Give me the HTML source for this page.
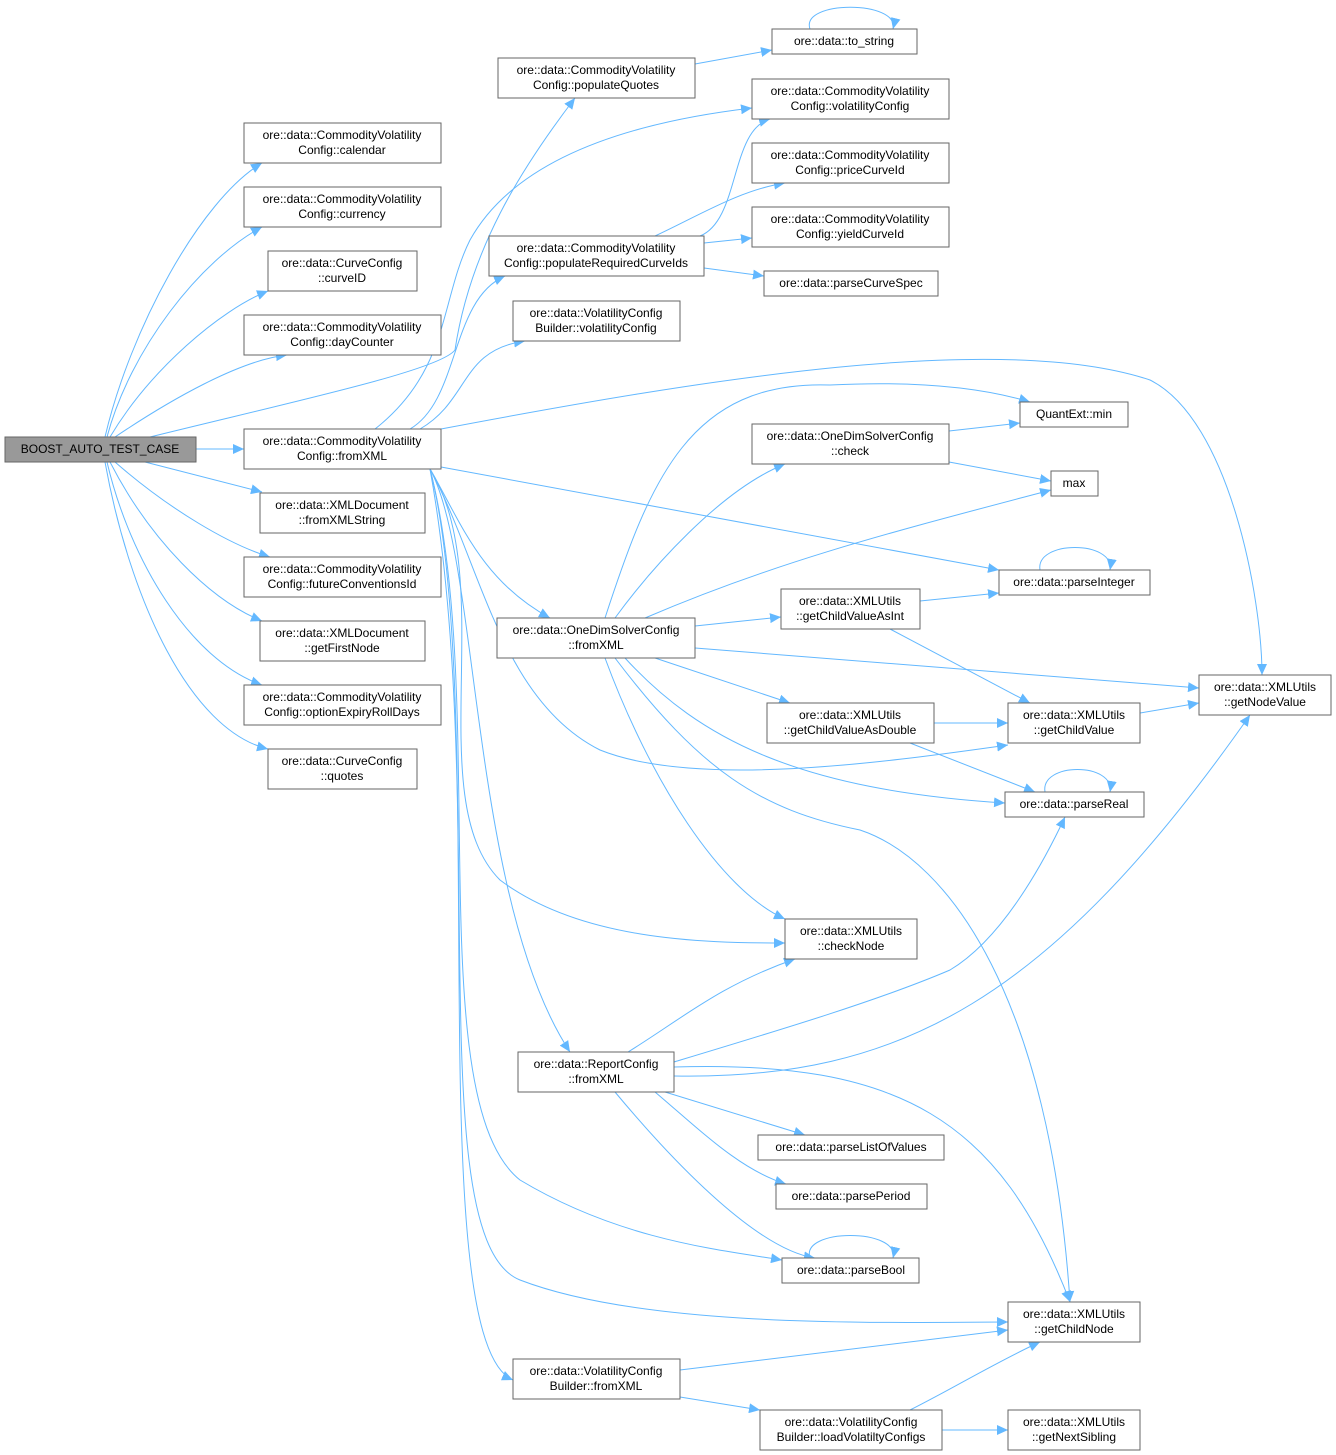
<!DOCTYPE html>
<html><head><meta charset="utf-8"><style>
html,body{margin:0;padding:0;background:#fff;}
svg{display:block;}
text{font-family:"Liberation Sans",sans-serif;font-size:12px;fill:#000;}
.n{fill:#fff;stroke:#666;stroke-width:1;}
.e{fill:none;stroke:#63b8ff;stroke-width:1;}
</style></head><body>
<svg width="1336" height="1455" viewBox="0 0 1336 1455" xmlns="http://www.w3.org/2000/svg">
<defs><marker id="a" markerWidth="12" markerHeight="10" refX="11" refY="5" orient="auto" markerUnits="userSpaceOnUse"><path d="M0,0 L11,5 L0,10 z" fill="#63b8ff"/></marker></defs>
<g class="e" marker-end="url(#a)">
<path d="M105,437 C130,330 200,200 262,163"/>
<path d="M107,437 C130,350 200,260 262,227"/>
<path d="M110,437 C150,370 220,310 268,291"/>
<path d="M115,437 C170,400 240,360 287,355"/>
<path d="M150,437 C300,400 440,370 455,350 C470,250 520,170 575,98"/>
<path d="M196,449 L244,449"/>
<path d="M145,462 L262,492"/>
<path d="M115,462 C170,510 230,545 270,557"/>
<path d="M110,462 C150,540 210,600 262,621"/>
<path d="M107,462 C130,560 190,660 262,685"/>
<path d="M105,462 C130,600 190,730 268,749"/>
<path d="M375,429 C450,370 440,300 470,240 C520,150 650,120 752,108"/>
<path d="M410,429 C460,400 450,300 505,276"/>
<path d="M420,429 C470,400 460,350 525,341"/>
<path d="M441,429 C700,380 1000,330 1150,380 C1230,420 1262,600 1262,675"/>
<path d="M441,467 L999,570"/>
<path d="M430,469 C460,520 480,580 550,618"/>
<path d="M430,469 C480,560 500,700 600,750 C700,790 900,760 1008,745"/>
<path d="M430,469 C500,580 420,800 500,880 C580,940 700,943 785,943"/>
<path d="M430,469 C480,560 470,900 570,1052"/>
<path d="M430,469 C490,700 420,1100 520,1180 C620,1240 720,1250 782,1260"/>
<path d="M430,469 C490,800 420,1240 520,1280 C650,1330 900,1322 1008,1322"/>
<path d="M430,469 C490,700 420,1340 513,1380"/>
<path d="M695,64 L772,50"/>
<path d="M810,29 C800,0 900,0 893,29"/>
<path d="M700,236 C740,220 730,130 770,119"/>
<path d="M655,236 C700,215 740,190 785,183"/>
<path d="M704,243 L752,238"/>
<path d="M704,268 L764,276"/>
<path d="M605,618 C650,480 690,380 830,385 C930,380 990,390 1030,402"/>
<path d="M615,618 C650,570 720,490 785,464"/>
<path d="M645,618 C780,560 900,530 1051,490"/>
<path d="M695,626 L781,617"/>
<path d="M695,648 L1199,688"/>
<path d="M655,658 L790,703"/>
<path d="M625,658 C700,740 800,790 1005,803"/>
<path d="M605,658 C650,780 720,890 785,919"/>
<path d="M615,658 C700,770 760,810 860,830 C950,860 1050,1000 1070,1302"/>
<path d="M949,431 L1020,423"/>
<path d="M949,462 L1051,481"/>
<path d="M920,601 L999,593"/>
<path d="M890,629 L1030,703"/>
<path d="M934,723 L1008,723"/>
<path d="M910,743 L1035,792"/>
<path d="M1140,713 L1199,703"/>
<path d="M1040,570 C1035,540 1115,540 1110,570"/>
<path d="M1045,792 C1040,762 1115,762 1110,792"/>
<path d="M628,1052 C680,1020 720,985 795,959"/>
<path d="M674,1062 C780,1030 880,1000 950,970 C1000,940 1040,870 1065,817"/>
<path d="M674,1076 C900,1080 1050,1000 1250,715"/>
<path d="M674,1067 C900,1060 1000,1120 1070,1302"/>
<path d="M665,1092 L805,1135"/>
<path d="M655,1092 C700,1130 740,1170 786,1184"/>
<path d="M615,1092 C680,1170 760,1250 815,1258"/>
<path d="M810,1258 C800,1228 900,1228 893,1258"/>
<path d="M680,1370 L1008,1330"/>
<path d="M680,1397 L760,1410"/>
<path d="M910,1410 C950,1390 1000,1360 1040,1342"/>
<path d="M942,1430 L1008,1430"/>
</g>
<g>
<rect x="5" y="437" width="191" height="25" fill="#999" stroke="#666"/><text x="100" y="453" text-anchor="middle">BOOST_AUTO_TEST_CASE</text>
</g>
<g text-anchor="middle">
<rect class="n" x="244" y="123" width="197" height="40"/><text x="342" y="139">ore::data::CommodityVolatility</text><text x="342" y="154">Config::calendar</text>
<rect class="n" x="244" y="187" width="197" height="40"/><text x="342" y="203">ore::data::CommodityVolatility</text><text x="342" y="218">Config::currency</text>
<rect class="n" x="268" y="251" width="149" height="40"/><text x="342" y="267">ore::data::CurveConfig</text><text x="342" y="282">::curveID</text>
<rect class="n" x="244" y="315" width="197" height="40"/><text x="342" y="331">ore::data::CommodityVolatility</text><text x="342" y="346">Config::dayCounter</text>
<rect class="n" x="244" y="429" width="197" height="40"/><text x="342" y="445">ore::data::CommodityVolatility</text><text x="342" y="460">Config::fromXML</text>
<rect class="n" x="260" y="493" width="165" height="40"/><text x="342" y="509">ore::data::XMLDocument</text><text x="342" y="524">::fromXMLString</text>
<rect class="n" x="244" y="557" width="197" height="40"/><text x="342" y="573">ore::data::CommodityVolatility</text><text x="342" y="588">Config::futureConventionsId</text>
<rect class="n" x="260" y="621" width="165" height="40"/><text x="342" y="637">ore::data::XMLDocument</text><text x="342" y="652">::getFirstNode</text>
<rect class="n" x="244" y="685" width="197" height="40"/><text x="342" y="701">ore::data::CommodityVolatility</text><text x="342" y="716">Config::optionExpiryRollDays</text>
<rect class="n" x="268" y="749" width="149" height="40"/><text x="342" y="765">ore::data::CurveConfig</text><text x="342" y="780">::quotes</text>
<rect class="n" x="498" y="58" width="197" height="40"/><text x="596" y="74">ore::data::CommodityVolatility</text><text x="596" y="89">Config::populateQuotes</text>
<rect class="n" x="772" y="29" width="145" height="25"/><text x="844" y="45">ore::data::to_string</text>
<rect class="n" x="752" y="79" width="197" height="40"/><text x="850" y="95">ore::data::CommodityVolatility</text><text x="850" y="110">Config::volatilityConfig</text>
<rect class="n" x="752" y="143" width="197" height="40"/><text x="850" y="159">ore::data::CommodityVolatility</text><text x="850" y="174">Config::priceCurveId</text>
<rect class="n" x="752" y="207" width="197" height="40"/><text x="850" y="223">ore::data::CommodityVolatility</text><text x="850" y="238">Config::yieldCurveId</text>
<rect class="n" x="489" y="236" width="215" height="40"/><text x="596" y="252">ore::data::CommodityVolatility</text><text x="596" y="267">Config::populateRequiredCurveIds</text>
<rect class="n" x="764" y="271" width="174" height="25"/><text x="851" y="287">ore::data::parseCurveSpec</text>
<rect class="n" x="513" y="301" width="167" height="40"/><text x="596" y="317">ore::data::VolatilityConfig</text><text x="596" y="332">Builder::volatilityConfig</text>
<rect class="n" x="1020" y="402" width="108" height="25"/><text x="1074" y="418">QuantExt::min</text>
<rect class="n" x="752" y="424" width="197" height="40"/><text x="850" y="440">ore::data::OneDimSolverConfig</text><text x="850" y="455">::check</text>
<rect class="n" x="1051" y="471" width="47" height="25"/><text x="1074" y="487">max</text>
<rect class="n" x="999" y="570" width="151" height="25"/><text x="1074" y="586">ore::data::parseInteger</text>
<rect class="n" x="781" y="589" width="139" height="40"/><text x="850" y="605">ore::data::XMLUtils</text><text x="850" y="620">::getChildValueAsInt</text>
<rect class="n" x="497" y="618" width="198" height="40"/><text x="596" y="634">ore::data::OneDimSolverConfig</text><text x="596" y="649">::fromXML</text>
<rect class="n" x="1199" y="675" width="132" height="40"/><text x="1265" y="691">ore::data::XMLUtils</text><text x="1265" y="706">::getNodeValue</text>
<rect class="n" x="767" y="703" width="167" height="40"/><text x="850" y="719">ore::data::XMLUtils</text><text x="850" y="734">::getChildValueAsDouble</text>
<rect class="n" x="1008" y="703" width="132" height="40"/><text x="1074" y="719">ore::data::XMLUtils</text><text x="1074" y="734">::getChildValue</text>
<rect class="n" x="1005" y="792" width="139" height="25"/><text x="1074" y="808">ore::data::parseReal</text>
<rect class="n" x="785" y="919" width="132" height="40"/><text x="851" y="935">ore::data::XMLUtils</text><text x="851" y="950">::checkNode</text>
<rect class="n" x="518" y="1052" width="156" height="40"/><text x="596" y="1068">ore::data::ReportConfig</text><text x="596" y="1083">::fromXML</text>
<rect class="n" x="758" y="1135" width="186" height="25"/><text x="851" y="1151">ore::data::parseListOfValues</text>
<rect class="n" x="776" y="1184" width="151" height="25"/><text x="851" y="1200">ore::data::parsePeriod</text>
<rect class="n" x="782" y="1258" width="137" height="25"/><text x="851" y="1274">ore::data::parseBool</text>
<rect class="n" x="1008" y="1302" width="132" height="40"/><text x="1074" y="1318">ore::data::XMLUtils</text><text x="1074" y="1333">::getChildNode</text>
<rect class="n" x="513" y="1359" width="167" height="40"/><text x="596" y="1375">ore::data::VolatilityConfig</text><text x="596" y="1390">Builder::fromXML</text>
<rect class="n" x="760" y="1410" width="182" height="40"/><text x="851" y="1426">ore::data::VolatilityConfig</text><text x="851" y="1441">Builder::loadVolatiltyConfigs</text>
<rect class="n" x="1008" y="1410" width="132" height="40"/><text x="1074" y="1426">ore::data::XMLUtils</text><text x="1074" y="1441">::getNextSibling</text>
</g>
</svg>
</body></html>
